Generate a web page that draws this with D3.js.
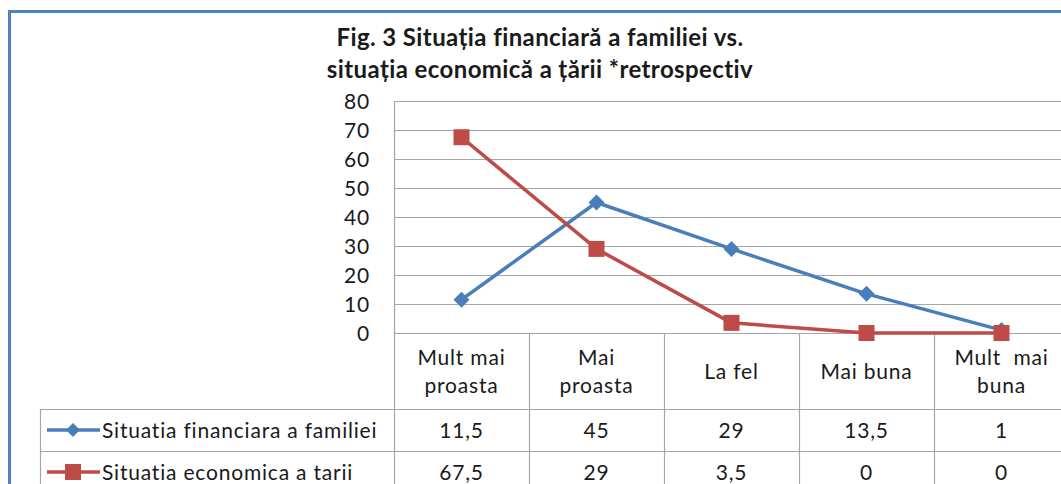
<!DOCTYPE html>
<html lang="ro">
<head>
<meta charset="UTF-8">
<title>Fig. 3</title>
<script src="https://d3js.org/d3.v7.min.js"></script>
<style>
  body { margin: 0; background: #fff; }
  svg text { font-family: Lato, "Open Sans", sans-serif; fill: #1a1a1a; letter-spacing: 0.8px; }
  svg text.title { letter-spacing: 0.4px; }
</style>
</head>
<body>
<div id="chart"></div>
<script>
  const categories = [["Mult mai", "proasta"], ["Mai", "proasta"], ["La fel"], ["Mai buna"], ["Mult  mai", "buna"]];
  const familie = [11.5, 45, 29, 13.5, 1];
  const tara = [67.5, 29, 3.5, 0, 0];
  const seriesNames = ["Situatia financiara a familiei", "Situatia economica a tarii"];
  const yTicks = [0, 10, 20, 30, 40, 50, 60, 70, 80];

  const W = 1061, H = 484;
  const plotLeft = 394, plotTop = 101, plotBottom = 333, colW = 135;
  const tableLeft = 40, row1 = 409, row2 = 451, row3 = 493;

  const svg = d3.select("#chart").append("svg")
    .attr("width", W).attr("height", H);

  // blue frame
  svg.append("rect")
    .attr("x", 9.5).attr("y", 11.5)
    .attr("width", W + 20).attr("height", H + 20)
    .attr("fill", "#fff").attr("stroke", "#4f81bd").attr("stroke-width", 3);

  // title
  svg.append("text").attr("class", "title").attr("x", 540).attr("y", 46).attr("text-anchor", "middle")
    .style("font-size", "24px").style("font-weight", "bold")
    .text("Fig. 3 Situația financiară a familiei vs.");
  svg.append("text").attr("class", "title").attr("x", 540).attr("y", 78).attr("text-anchor", "middle")
    .style("font-size", "24px").style("font-weight", "bold")
    .text("situația economică a țării *retrospectiv");

  const x = d3.scaleBand()
    .domain(d3.range(categories.length))
    .range([plotLeft, plotLeft + colW * categories.length]);
  const y = d3.scaleLinear().domain([0, 80]).range([plotBottom, plotTop]);

  const grid = "#a6a6a6";

  // gridlines + y labels
  svg.append("g").selectAll("line").data(yTicks).enter().append("line")
    .attr("x1", plotLeft).attr("x2", W + 10)
    .attr("y1", d => y(d) + 0.5).attr("y2", d => y(d) + 0.5)
    .attr("stroke", grid).attr("stroke-width", 1.2);
  svg.append("g").selectAll("text").data(yTicks).enter().append("text")
    .attr("x", 370).attr("y", d => y(d) + 8)
    .attr("text-anchor", "end")
    .style("font-size", "21px")
    .text(d => d);

  // table lines
  svg.append("line").attr("x1", plotLeft + 0.5).attr("x2", plotLeft + 0.5)
    .attr("y1", plotTop).attr("y2", H).attr("stroke", grid).attr("stroke-width", 1.2);
  svg.append("g").selectAll("line").data(d3.range(1, categories.length + 1)).enter().append("line")
    .attr("x1", d => x(d - 1) + colW + 0.5).attr("x2", d => x(d - 1) + colW + 0.5)
    .attr("y1", plotBottom).attr("y2", H)
    .attr("stroke", grid).attr("stroke-width", 1.2);
  [row1, row2, row3].forEach(r => {
    svg.append("line").attr("x1", tableLeft).attr("x2", W + 10)
      .attr("y1", r + 0.5).attr("y2", r + 0.5)
      .attr("stroke", grid).attr("stroke-width", 1.2);
  });
  svg.append("line").attr("x1", tableLeft + 0.5).attr("x2", tableLeft + 0.5)
    .attr("y1", row1).attr("y2", H).attr("stroke", grid).attr("stroke-width", 1.2);

  // category labels
  const cat = svg.append("g").selectAll("text").data(categories).enter().append("text")
    .attr("text-anchor", "middle")
    .style("font-size", "21px")
    .attr("x", (d, i) => x(i) + colW / 2)
    .attr("y", d => d.length === 2 ? 365 : 379);
  cat.selectAll("tspan").data(d => d).enter().append("tspan")
    .attr("x", function() { return d3.select(this.parentNode).attr("x"); })
    .attr("dy", (d, i) => i === 0 ? 0 : 28)
    .style("white-space", "pre")
    .text(d => d);

  const colors = ["#4a7ebb", "#be4b48"];
  const allSeries = [familie, tara];

  // lines
  const line = d3.line()
    .x((d, i) => x(i) + colW / 2)
    .y(d => y(d));
  allSeries.forEach((s, k) => {
    svg.append("path").datum(s)
      .attr("d", line)
      .attr("fill", "none")
      .attr("stroke", colors[k])
      .attr("stroke-width", 3.5)
      .attr("stroke-linejoin", "round");
  });

  // markers
  svg.append("g").selectAll("path").data(familie).enter().append("path")
    .attr("transform", (d, i) => `translate(${x(i) + colW / 2},${y(d)})`)
    .attr("d", "M0,-8L8,0L0,8L-8,0Z")
    .attr("fill", colors[0]);
  svg.append("g").selectAll("rect").data(tara).enter().append("rect")
    .attr("x", (d, i) => x(i) + colW / 2 - 8)
    .attr("y", d => y(d) - 8)
    .attr("width", 16).attr("height", 16)
    .attr("fill", colors[1]);

  // table rows: legend + values
  const rows = [row1, row2];
  allSeries.forEach((s, k) => {
    const cy = (rows[k] + rows[k] + 42) / 2;
    svg.append("line").attr("x1", 47).attr("x2", 100)
      .attr("y1", cy).attr("y2", cy)
      .attr("stroke", colors[k]).attr("stroke-width", 3.5);
    if (k === 0) {
      svg.append("path").attr("transform", `translate(73,${cy})`)
        .attr("d", "M0,-7L7,0L0,7L-7,0Z").attr("fill", colors[k]);
    } else {
      svg.append("rect").attr("x", 65).attr("y", cy - 8)
        .attr("width", 16).attr("height", 16).attr("fill", colors[k]);
    }
    svg.append("text").attr("x", 102).attr("y", cy + 8)
      .style("font-size", "21px").text(seriesNames[k]);
    svg.append("g").selectAll("text").data(s).enter().append("text")
      .attr("x", (d, i) => x(i) + colW / 2)
      .attr("y", cy + 8)
      .attr("text-anchor", "middle")
      .style("font-size", "21px")
      .text(d => String(d).replace(".", ","));
  });
</script>
</body>
</html>
